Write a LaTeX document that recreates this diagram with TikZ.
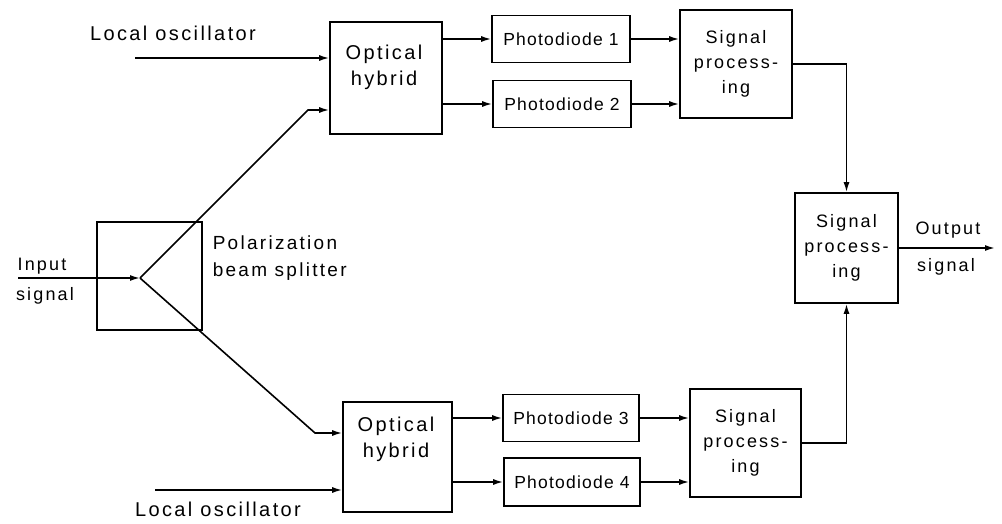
\documentclass[tikz,border=0pt]{standalone}
\usepackage{fontspec}
\setmainfont[LetterSpace=12]{Liberation Sans}
\newfontfamily\pdfont[LetterSpace=7]{Liberation Sans}
\usetikzlibrary{arrows.meta,calc}
\begin{document}
\begin{tikzpicture}[x=1pt,y=-1pt, line width=1.6pt,
  >={Latex[length=10pt,width=6pt]},
  blk/.style={draw, inner sep=0pt, align=center},
  lab/.style={inner sep=0pt, align=center, font=\fontsize{20}{26}\selectfont},
  pdtxt/.style={font=\pdfont\fontsize{17.5}{20}\selectfont},
  sptxt/.style={font=\fontsize{18}{25}\selectfont}]
\useasboundingbox (0,0) rectangle (1002,524);
% blocks
\node[blk, minimum width=105pt, minimum height=108pt] (bs) at (149.5,276) {};
\node[blk, minimum width=112pt, minimum height=112pt] (hy1) at (386,78) {};
\node[lab] (hy1t) at (384,67) {Optical\\hybrid};
\node[blk, minimum width=109pt, minimum height=110pt] (hy2) at (397.5,457) {};
\node[lab] (hy2t) at (396,439) {Optical\\hybrid};
\node[blk, pdtxt, minimum width=138pt, minimum height=47pt] (pd1) at (561,39) {Photodiode 1};
\node[blk, pdtxt, minimum width=138pt, minimum height=47pt] (pd2) at (562,104) {Photodiode 2};
\node[blk, pdtxt, minimum width=136pt, minimum height=47pt] (pd3) at (571,418) {Photodiode 3};
\node[blk, pdtxt, minimum width=136pt, minimum height=48pt] (pd4) at (572,482) {Photodiode 4};
\node[blk, sptxt, minimum width=112pt, minimum height=108pt] (sp1) at (736,64) {Signal\\process-\\ing};
\node[blk, sptxt, minimum width=111pt, minimum height=108pt] (sp2) at (745.5,443) {Signal\\process-\\ing};
\node[blk, sptxt, minimum width=103pt, minimum height=110pt] (sp3) at (846.5,248) {Signal\\process-\\ing};
% coordinates
\coordinate (in) at (18,278);
\coordinate (apex) at (140,278);
\coordinate (k1) at (308,110);
\coordinate (k2) at (315,433);
\coordinate (lo1) at (135,58);
\coordinate (lo2) at (155,490);
\coordinate (out) at (995,248);
% connectors
\draw[->] (in) -- (apex);
\draw[->] (apex) -- (k1) -- (k1 -| hy1.west);
\draw[->] (apex) -- (k2) -- (k2 -| hy2.west);
\draw[->] (lo1) -- (lo1 -| hy1.west);
\draw[->] (lo2) -- (lo2 -| hy2.west);
\draw[->] (pd1.west -| hy1.east) -- (pd1.west);
\draw[->] (pd2.west -| hy1.east) -- (pd2.west);
\draw[->] (pd3.west -| hy2.east) -- (pd3.west);
\draw[->] (pd4.west -| hy2.east) -- (pd4.west);
\draw[->] (pd1.east) -- (pd1.east -| sp1.west);
\draw[->] (pd2.east) -- (pd2.east -| sp1.west);
\draw[->] (pd3.east) -- (pd3.east -| sp2.west);
\draw[->] (pd4.east) -- (pd4.east -| sp2.west);
\draw[->] (sp1.east) -| (sp3.north);
\draw[->] (sp2.east) -| (sp3.south);
\draw[->] (sp3.east) -- (out);
% labels
\node[lab] (lo1t) at (173,33) {Local oscillator};
\node[lab] (lo2t) at (218,509) {Local oscillator};
\node[lab, align=left, anchor=west, font=\fontsize{19}{27}\selectfont] (bst) at (212,258) {Polarization\\beam splitter};
\node[lab, font=\fontsize{18}{22}\selectfont] (inl) at (42,266) {Input};
\node[lab, font=\fontsize{18}{22}\selectfont] (insl) at (45,296) {signal};
\node[lab, font=\fontsize{18}{22}\selectfont] (outl) at (948,230) {Output};
\node[lab, font=\fontsize{18}{22}\selectfont] (outsl) at (946,267) {signal};
\end{tikzpicture}
\end{document}
